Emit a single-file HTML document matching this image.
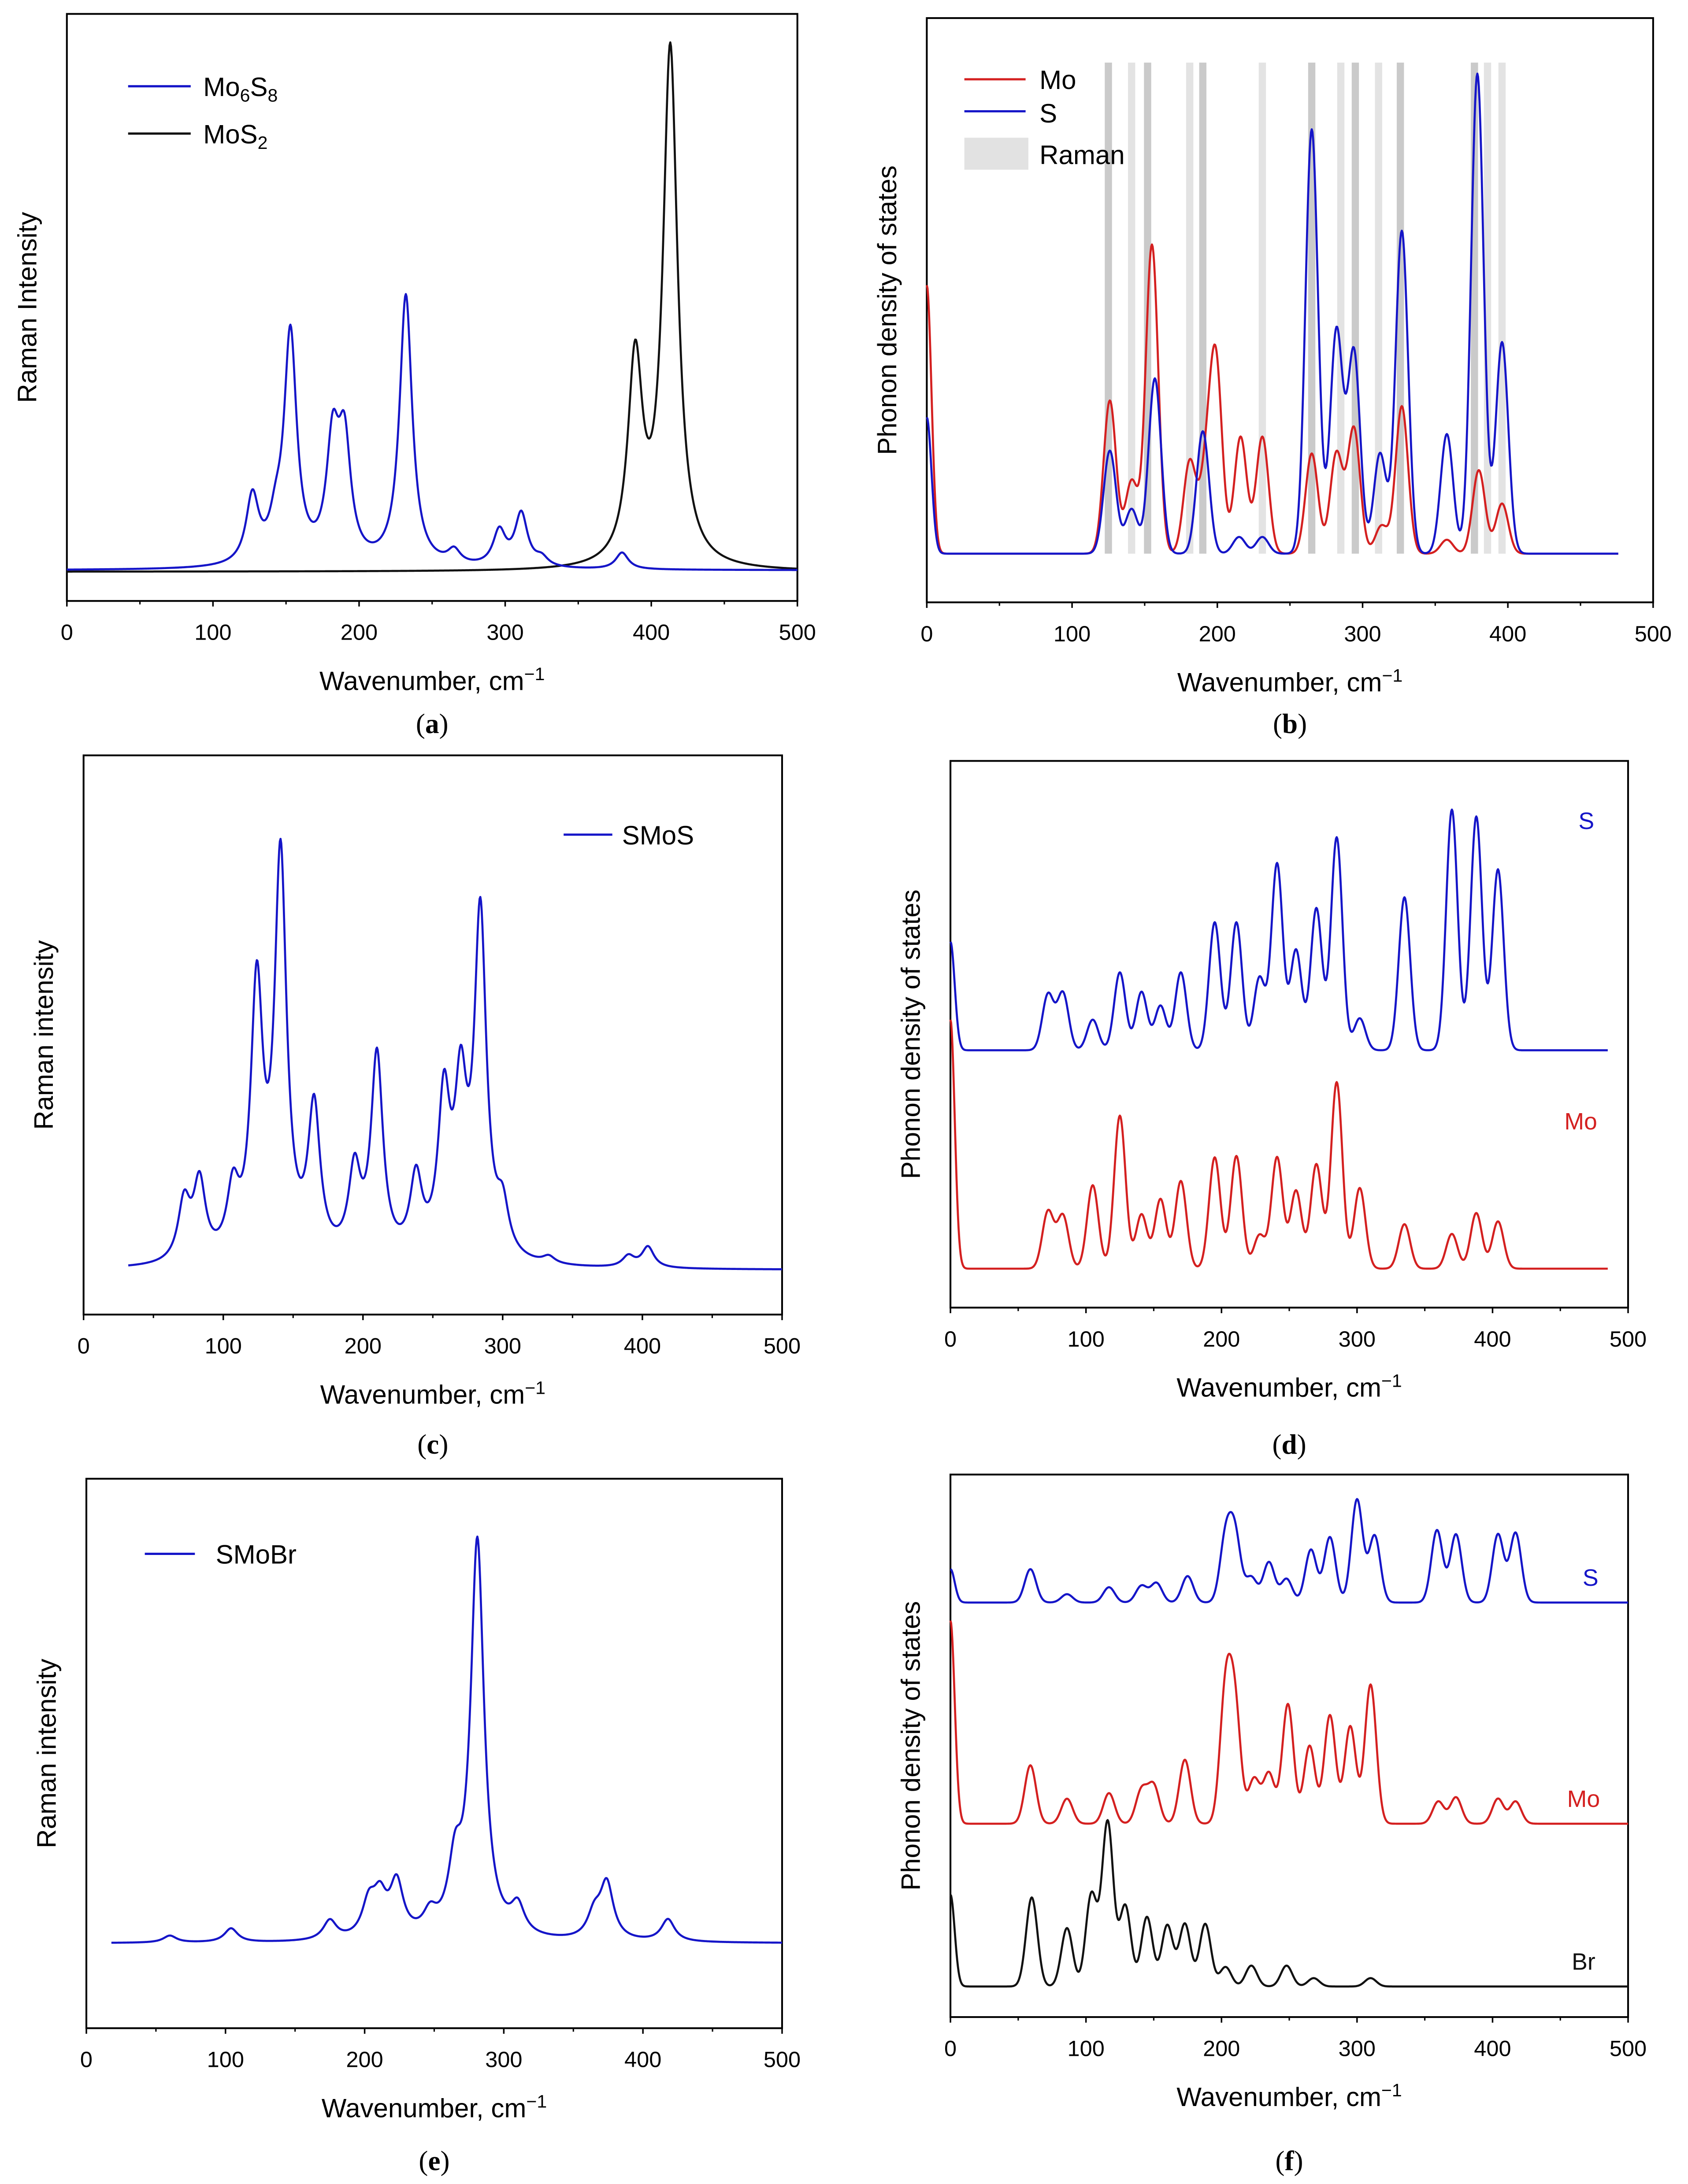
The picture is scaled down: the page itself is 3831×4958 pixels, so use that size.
<!DOCTYPE html>
<html><head><meta charset="utf-8"><style>
html,body{margin:0;padding:0;background:#fff;}
svg{display:block;}
text{font-family:"Liberation Sans",sans-serif;}
.serif{font-family:"Liberation Serif",serif;}
</style></head>
<body>
<svg id="fig" xmlns="http://www.w3.org/2000/svg" width="3831" height="4958" viewBox="0 0 1213 1570">
<rect x="0" y="0" width="1213" height="1570" fill="#fff"/>
</svg>
<script>
// ---- Data arrays (peak positions in cm-1, peak intensities in arbitrary units) ----
const ticksX = [0, 100, 200, 300, 400, 500];
const aPos_Mo6S8 = [127, 143, 153, 182, 190, 232, 265, 296, 311, 325, 380];
const aInt_Mo6S8 = [48, 22, 165, 82, 82, 195, 10, 25, 38, 6, 12];
const aPos_MoS2 = [389, 413];
const aInt_MoS2 = [145, 372];
const bPos_Mo = [0, 126, 141, 155, 181, 192, 199, 216, 231, 265, 282, 294, 313, 327, 358, 380, 396];
const bInt_Mo = [193, 110, 52, 222, 66, 50, 135, 84, 84, 72, 72, 90, 20, 106, 10, 60, 36];
const bPos_S = [0, 126, 141, 157, 190, 215, 231, 265, 282, 294, 312, 327, 358, 379, 396];
const bInt_S = [98, 74, 32, 126, 88, 12, 12, 305, 160, 145, 72, 232, 86, 345, 152];
const bRaman = [125, 141, 152, 181, 190, 231, 265, 285, 295, 311, 326, 377, 386, 396];
const bRamanDark = [1, 0, 1, 0, 1, 0, 1, 0, 1, 0, 1, 1, 0, 0];
const cPos_SMoS = [72, 83, 107, 124, 141, 165, 194, 210, 238, 258, 270, 284, 300, 333, 390, 404];
const cInt_SMoS = [42, 55, 45, 190, 285, 105, 60, 145, 55, 110, 110, 245, 32, 5, 8, 15];
const dPos = [0, 72, 83, 105, 125, 141, 155, 170, 195, 211, 228, 241, 255, 270, 285, 302, 335, 370, 388, 404];
const dInt_S = [78, 40, 41, 22, 56, 42, 32, 56, 92, 92, 52, 134, 72, 102, 153, 23, 110, 173, 168, 130];
const dInt_Mo = [179, 41, 38, 60, 110, 39, 50, 63, 80, 81, 24, 80, 56, 75, 134, 58, 32, 25, 40, 34];
const ePos_SMoBr = [60, 104, 175, 203, 211, 223, 247, 265, 281, 310, 365, 374, 418];
const eInt_SMoBr = [5, 10, 14, 24, 26, 38, 14, 45, 285, 20, 17, 40, 16];
const fPos_S = [0, 59, 86, 117, 141, 152, 175, 203, 210, 222, 235, 248, 266, 280, 300, 313, 359, 373, 404, 417];
const fInt_S = [24, 24, 6, 11, 12, 14, 19, 45, 47, 18, 29, 17, 38, 47, 74, 48, 52, 49, 49, 50];
const fPos_Mo = [0, 59, 86, 117, 141, 150, 173, 203, 210, 224, 235, 249, 265, 280, 295, 310, 360, 373, 404, 417];
const fInt_Mo = [146, 42, 18, 22, 24, 27, 46, 92, 80, 32, 36, 86, 56, 78, 70, 100, 16, 19, 18, 16];
const fPos_Br = [0, 60, 86, 104, 116, 129, 145, 160, 173, 188, 203, 222, 248, 268, 310];
const fInt_Br = [66, 64, 42, 66, 118, 58, 50, 44, 45, 45, 14, 15, 15, 6, 6];

const NS = "http://www.w3.org/2000/svg";
const svg = document.getElementById('fig');
function el(tag, attrs, parent) {
  const e = document.createElementNS(NS, tag);
  for (const k in attrs) e.setAttribute(k, attrs[k]);
  (parent || svg).appendChild(e);
  return e;
}
function txt(s, x, y, size, attrs, parent) {
  const t = el('text', Object.assign({x: x, y: y, 'font-size': size}, attrs || {}), parent);
  t.textContent = s;
  return t;
}
function lor(d, w) { return 1 / (1 + (d / w) * (d / w)); }
function gau(d, w) { return Math.exp(-0.5 * (d / w) * (d / w)); }

function panel(name, x0, x1, yT, yB, ylabel, label, labY) {
  const g = el('g', {});
  
  
  const frame = el('rect', {x: x0, y: yT, width: x1 - x0, height: yB - yT, fill: 'none', stroke: '#000', 'stroke-width': 1.3}, g);
  
  
  const xm = v => x0 + v / 500 * (x1 - x0);
  ticksX.forEach(v => {
    const tk = el('line', {x1: xm(v), x2: xm(v), y1: yB, y2: yB + 4, stroke: '#000', 'stroke-width': 1.1}, g);
    
    
    const mv = v + 50;
    if (mv < 500) {
      const mt = el('line', {x1: xm(mv), x2: xm(mv), y1: yB, y2: yB + 2.5, stroke: '#000', 'stroke-width': 1}, g);
      
      
    }
    const tl = txt(String(v), xm(v), yB + 28, 16, {'text-anchor': 'middle'}, g);
    
    
  });
  const xt = el('text', {x: (x0 + x1) / 2, y: yB + 64, 'font-size': 19, 'text-anchor': 'middle'}, g);
  
  
  xt.textContent = 'Wavenumber, cm';
  const sup = el('tspan', {dy: -7, 'font-size': 13}, xt);
  sup.textContent = '\u22121';
  const yc = (yT + yB) / 2;
  const yt = txt(ylabel, x0 - 22, yc, 19, {'text-anchor': 'middle', transform: 'rotate(-90 ' + (x0 - 22) + ' ' + yc + ')'}, g);
  
  
  const pl = el('text', {x: (x0 + x1) / 2, y: labY, 'font-size': 20, 'text-anchor': 'middle', class: 'serif'}, g);
  
  
  pl.appendChild(document.createTextNode('('));
  const b = el('tspan', {'font-weight': 'bold'}, pl); b.textContent = label;
  pl.appendChild(document.createTextNode(')'));
  return {g: g, xm: xm};
}

function curve(p, pos, ints, base, shape, w, vStart, vEnd, color, name) {
  let d = '';
  for (let v = vStart; v <= vEnd + 0.01; v += 0.5) {
    let s = 0;
    for (let i = 0; i < pos.length; i++) {
      const ww = pos[i] === 0 ? w * 0.75 : w;
      s += ints[i] * shape(v - pos[i], ww);
    }
    d += (d ? 'L' : 'M') + p.xm(v).toFixed(2) + ' ' + (base - s).toFixed(2);
  }
  const path = el('path', {d: d, fill: 'none', stroke: color, 'stroke-width': 1.5, 'stroke-linejoin': 'round'}, p.g);
  
  
  return path;
}
function legendLine(p, x1, x2, y, color, name) {
  const l = el('line', {x1: x1, x2: x2, y1: y, y2: y, stroke: color, 'stroke-width': 1.6}, p.g);
  
  
  return l;
}
const BLUE = '#1515c8', RED = '#d42020', BLACK = '#111';

// Panel a
const pa = panel('panel-a', 48, 573, 10, 432, 'Raman Intensity', 'a', 527);
curve(pa, aPos_MoS2, aInt_MoS2, 411, lor, 6, 0, 500, BLACK, 'mos2-curve');
curve(pa, aPos_Mo6S8, aInt_Mo6S8, 410, lor, 5.2, 0, 500, BLUE, 'mo6s8-curve');
legendLine(pa, 92, 137, 62, BLUE, 'legend-mo6s8');
legendLine(pa, 92, 137, 96, BLACK, 'legend-mos2');
let t = txt('Mo', 146, 69, 19, {}, pa.g);  
let ts = el('tspan', {dy: 4, 'font-size': 13}, t); ts.textContent = '6';
ts = el('tspan', {dy: -4}, t); ts.textContent = 'S';
ts = el('tspan', {dy: 4, 'font-size': 13}, t); ts.textContent = '8';
t = txt('MoS', 146, 103, 19, {}, pa.g);  
ts = el('tspan', {dy: 4, 'font-size': 13}, t); ts.textContent = '2';

// Panel b
const pb = panel('panel-b', 666, 1188, 13, 433, 'Phonon density of states', 'b', 527);
bRaman.forEach((v, i) => {
  const r = el('rect', {x: pb.xm(v) - 2.6, y: 45, width: 5.2, height: 353, fill: bRamanDark[i] ? '#c4c4c4' : '#e0e0e0', opacity: 0.9}, pb.g);
  
  
});
curve(pb, bPos_Mo, bInt_Mo, 398, gau, 4.3, 0, 476, RED, 'mo-pdos-curve');
curve(pb, bPos_S, bInt_S, 398, gau, 4.3, 0, 476, BLUE, 'S-pdos-curve');
legendLine(pb, 693, 737, 57, RED, 'legend-mo');
legendLine(pb, 693, 737, 80, BLUE, 'legend-s');
const rb = el('rect', {x: 693, y: 99, width: 46, height: 23, fill: '#e2e2e2'}, pb.g);
 
t = txt('Mo', 747, 64, 19, {}, pb.g);  
t = txt('S', 747, 88, 19, {}, pb.g);  
t = txt('Raman', 747, 118, 19, {}, pb.g);  

// Panel c
const pc = panel('panel-c', 60, 562, 543, 945, 'Raman intensity', 'c', 1045);
curve(pc, cPos_SMoS, cInt_SMoS, 913, lor, 5.2, 32, 500, BLUE, 'smos-curve');
legendLine(pc, 405, 440, 600, BLUE, 'legend-smos');
t = txt('SMoS', 447, 607, 19, {}, pc.g);  

// Panel d
const pd = panel('panel-d', 683, 1170, 547, 940, 'Phonon density of states', 'd', 1045);
curve(pd, dPos, dInt_S, 755, gau, 4.2, 0, 485, BLUE, 'S-pdos-curve');
curve(pd, dPos, dInt_Mo, 912, gau, 4.2, 0, 485, RED, 'mo-pdos-curve');
t = txt('S', 1140, 596, 17, {fill: BLUE, 'text-anchor': 'middle'}, pd.g);  
t = txt('Mo', 1136, 812, 17, {fill: RED, 'text-anchor': 'middle'}, pd.g);  

// Panel e
const pe = panel('panel-e', 62, 562, 1063, 1458, 'Raman intensity', 'e', 1560);
curve(pe, ePos_SMoBr, eInt_SMoBr, 1397, lor, 5.8, 18, 500, BLUE, 'smobr-curve');
legendLine(pe, 104, 140, 1117, BLUE, 'legend-smobr');
t = txt('SMoBr', 155, 1124, 19, {}, pe.g);  

// Panel f
const pf = panel('panel-f', 683, 1170, 1060, 1450, 'Phonon density of states', 'f', 1560);
curve(pf, fPos_S, fInt_S, 1152, gau, 4.2, 0, 500, BLUE, 'S-pdos-curve');
curve(pf, fPos_Mo, fInt_Mo, 1311, gau, 4.2, 0, 500, RED, 'mo-pdos-curve');
curve(pf, fPos_Br, fInt_Br, 1428, gau, 4.2, 0, 500, BLACK, 'br-pdos-curve');
t = txt('S', 1143, 1140, 17, {fill: BLUE, 'text-anchor': 'middle'}, pf.g);  
t = txt('Mo', 1138, 1299, 17, {fill: RED, 'text-anchor': 'middle'}, pf.g);  
t = txt('Br', 1138, 1416, 17, {fill: BLACK, 'text-anchor': 'middle'}, pf.g);  
</script>
</body></html>
